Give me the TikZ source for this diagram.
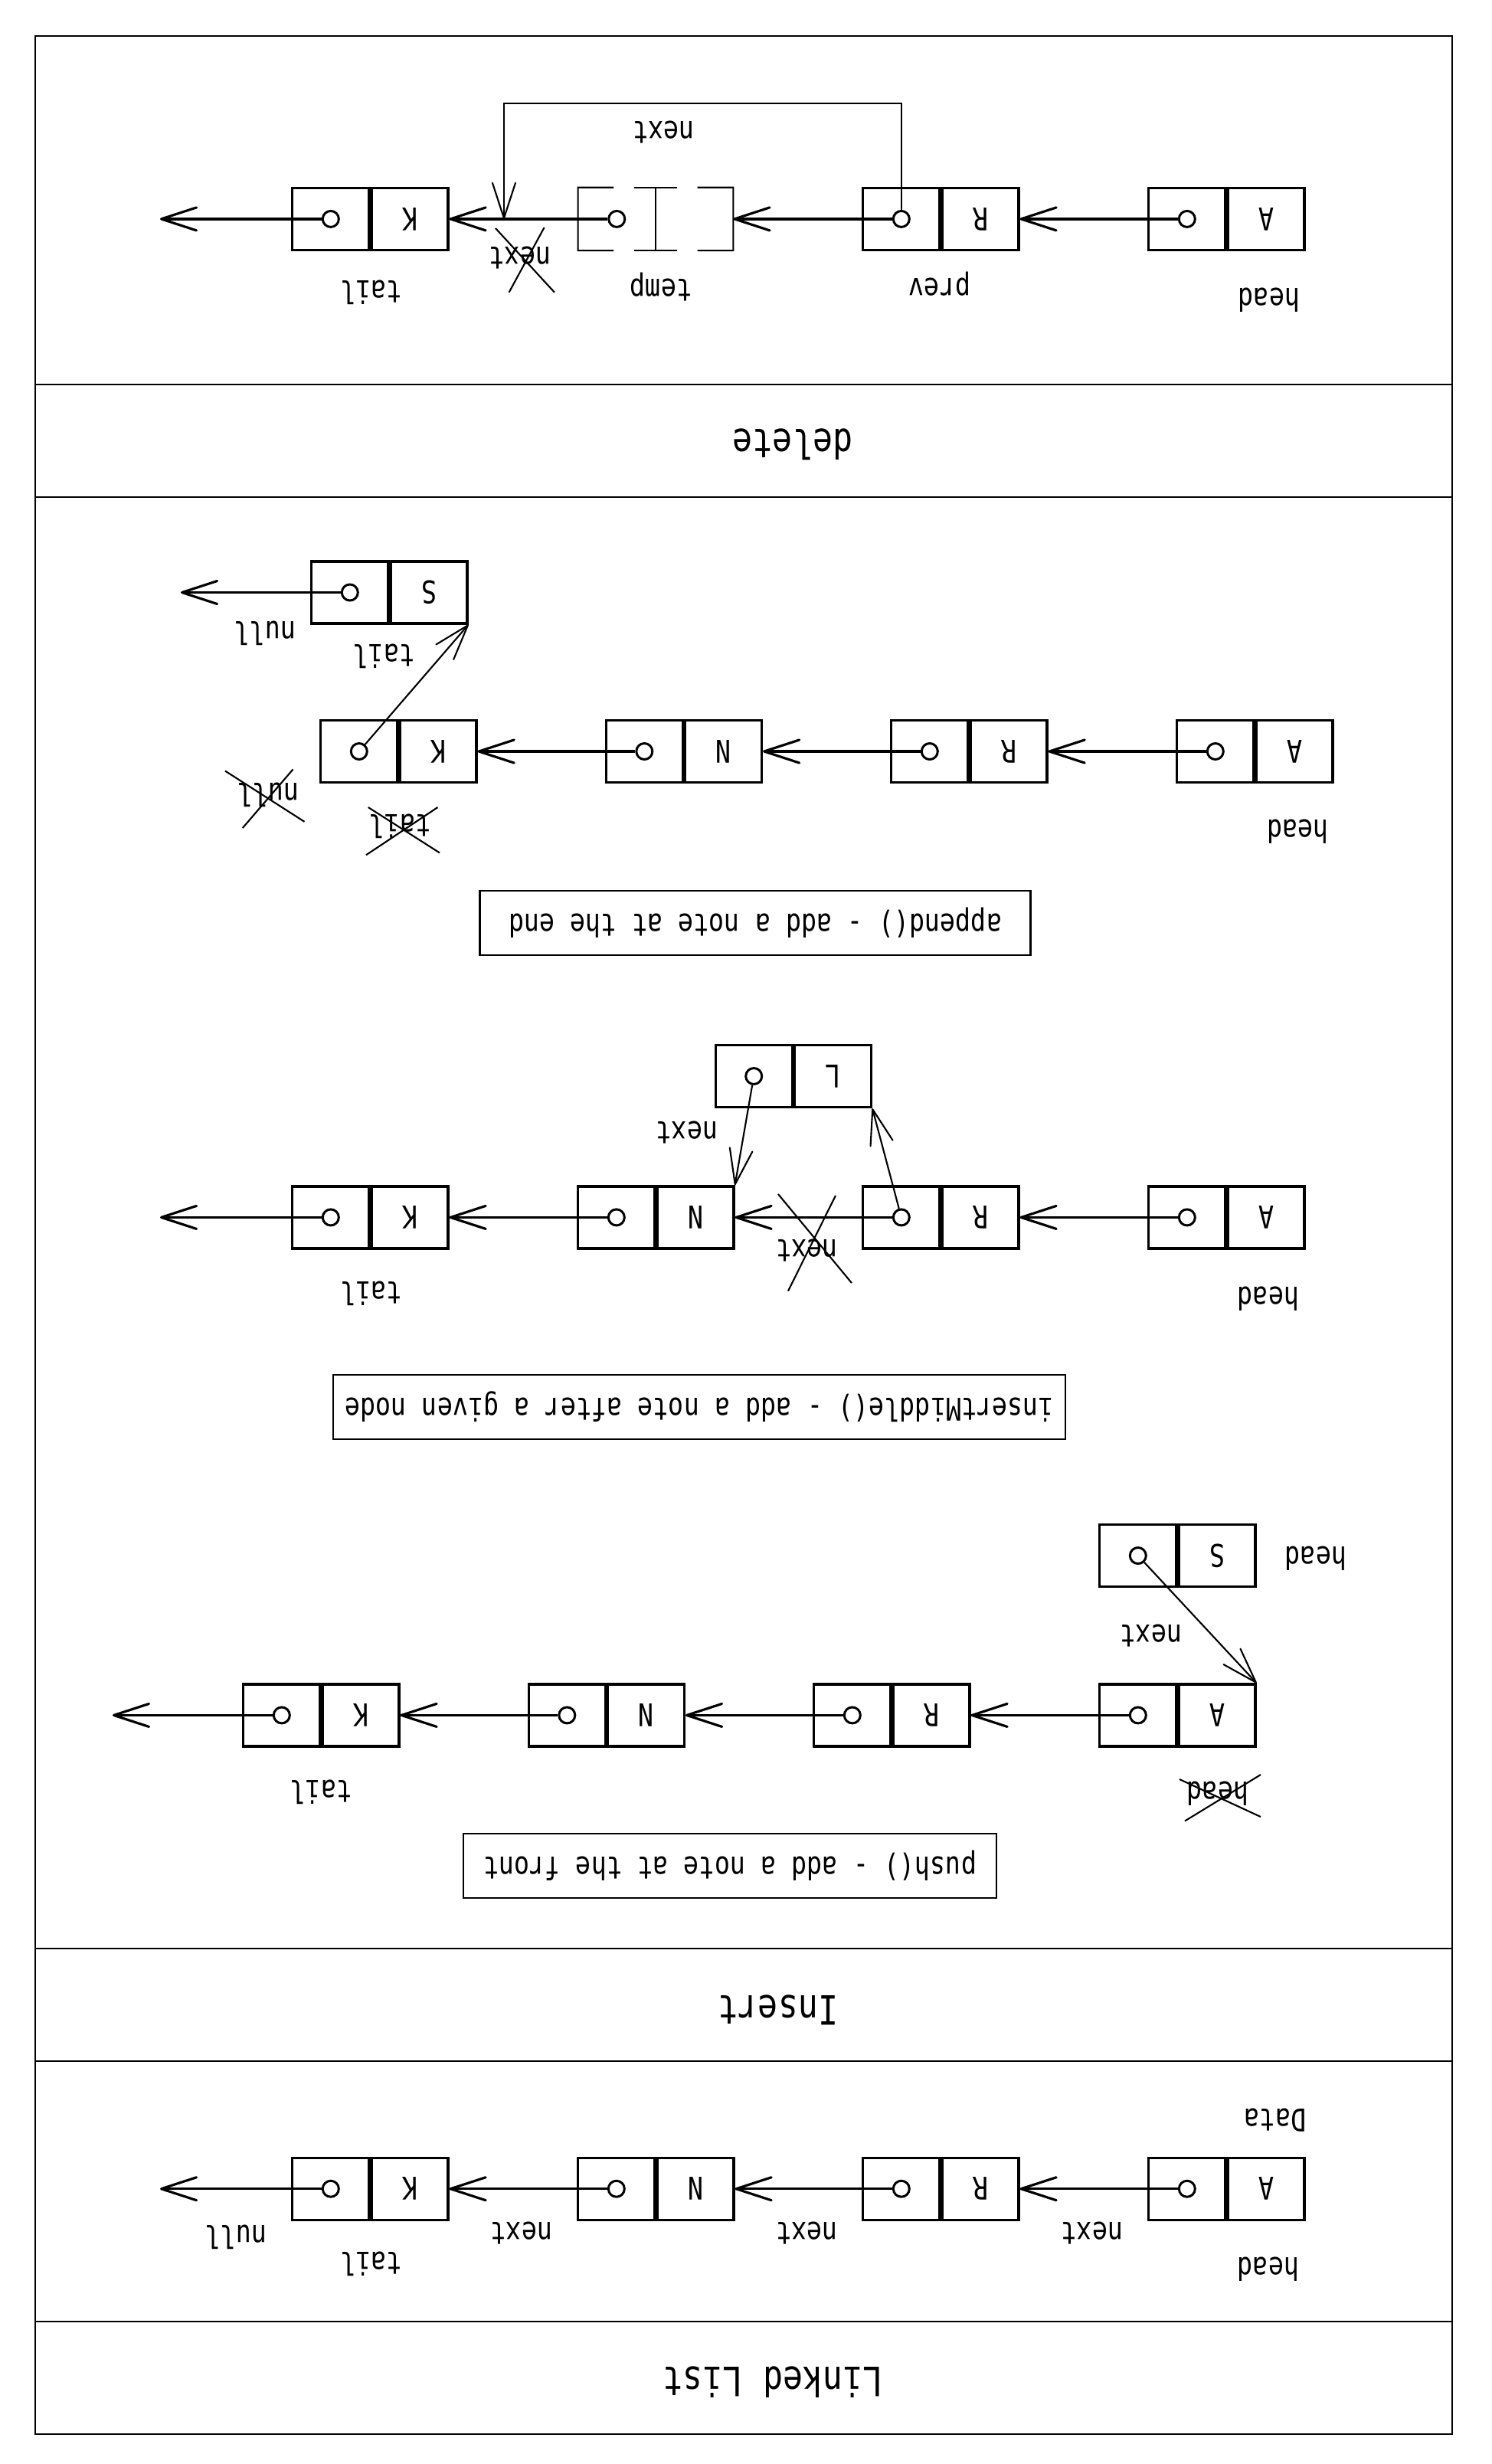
\documentclass[tikz,border=0pt]{standalone}
\usepackage{fontspec}
\setmainfont{DejaVu Sans Mono}[FakeStretch=0.82]
\usetikzlibrary{arrows.meta,positioning,calc}
\newcommand\LabelFont{\fontsize{11.6}{13}\selectfont}
\newcommand\TitleFont{\fontsize{15}{18}\selectfont}
% one list element: data cell, pointer cell and its dot
\newcommand\ListCell[4]{%
    \node[cell] (#1) at ({#2-0.5},#3) {#4};
    \node[cell, right=0pt of #1] (#1p) {};
    \node[dot] (#1o) at (#1p.center) {};
}
\newcommand\Strike[4]{%
    \draw[strike] (#1) -- (#2) (#3) -- (#4);
}
\tikzset{
    cell/.style={draw, line width=0.9pt, minimum width=1cm, minimum height=0.81cm, inner sep=0pt, font=\LabelFont},
    ghost/.style={minimum width=1cm, minimum height=0.81cm, inner sep=0pt},
    dot/.style={circle, draw, fill=white, line width=0.85pt, minimum size=0.21cm, inner sep=0pt},
    ptr/.style={line width=0.9pt, -{Straight Barb[length=4.6mm,width=3mm,round]}},
    thinptr/.style={ptr, line width=0.6pt},
    tag/.style={font=\LabelFont, inner sep=0pt},
    strike/.style={line width=0.6pt},
    bracket/.style={line width=0.6pt},
    caption/.style={draw, line width=0.75pt, minimum height=0.84cm, inner sep=0pt, font=\LabelFont},
    title/.style={font=\TitleFont},
    secline/.style={line width=0.65pt},
}

\begin{document}
\begin{tikzpicture}[rotate=180, transform shape]
    \useasboundingbox (0,0) rectangle (19.48,32.17);
    \draw[secline] (0.52,0.47) rectangle (19.02,31.78);
    \foreach \y in {5.02,6.49,25.44,26.91,30.31}
        \draw[secline] (0.52,\y) -- (19.02,\y);

    % Linked List
    \node[title] (llTitle) at (9.39,31.10) {Linked List};
    \ListCell{llA}{3.45}{28.577}{A}
    \ListCell{llR}{7.18}{28.577}{R}
    \ListCell{llN}{10.90}{28.577}{N}
    \ListCell{llK}{14.63}{28.577}{K}
    \coordinate (llEnd) at (17.39,28.577);
    \draw[ptr] (llAo) -- (llR);
    \draw[ptr] (llRo) -- (llN);
    \draw[ptr] (llNo) -- (llK);
    \draw[ptr] (llKo) -- (llEnd);
    \node[tag] (llData) at (2.83,27.68) {Data};
    \node[tag] (llHead) at (2.92,29.63) {head};
    \node[tag] (llNext1) at (5.22,29.15) {next};
    \node[tag] (llNext2) at (8.945,29.15) {next};
    \node[tag] (llNext3) at (12.67,29.15) {next};
    \node[tag] (llNull) at (16.40,29.21) {null};
    \node[tag] (llTail) at (14.635,29.56) {tail};

    \node[title] (inTitle) at (9.32,26.24) {Insert};

    % push
    \node[caption, minimum width=6.96cm] (puCap) at (9.95,24.36) {push() - add a note at the front};
    \ListCell{puA}{4.09}{22.394}{A}
    \ListCell{puR}{7.82}{22.394}{R}
    \ListCell{puN}{11.545}{22.394}{N}
    \ListCell{puK}{15.27}{22.394}{K}
    \ListCell{puS}{4.09}{20.31}{S}
    \coordinate (puEnd) at (18.01,22.394);
    \draw[ptr] (puAo) -- (puR);
    \draw[ptr] (puRo) -- (puN);
    \draw[ptr] (puNo) -- (puK);
    \draw[ptr] (puKo) -- (puEnd);
    \draw[thinptr] (puSo) -- (puA.south west);
    \node[tag] (puHead) at (2.30,20.35) {head};
    \node[tag] (puNext) at (4.45,21.35) {next};
    \node[tag] (puOld) at (3.58,23.42) {head};
    \Strike{4.08,23.23}{3.02,23.72}{3.02,23.17}{4.01,23.775}
    \node[tag] (puTail) at (15.29,23.40) {tail};

    % insertMiddle
    \node[caption, minimum width=9.56cm] (imCap) at (10.35,18.37) {insertMiddle() - add a note after a given node};
    \ListCell{imA}{3.45}{15.894}{A}
    \ListCell{imR}{7.18}{15.894}{R}
    \ListCell{imN}{10.90}{15.894}{N}
    \ListCell{imK}{14.63}{15.894}{K}
    \ListCell{imL}{9.106}{14.05}{L}
    \coordinate (imEnd) at (17.39,15.894);
    \draw[ptr] (imAo) -- (imR);
    \draw[ptr] (imRo) -- (imN);
    \draw[ptr] (imNo) -- (imK);
    \draw[ptr] (imKo) -- (imEnd);
    \draw[thinptr] (imRo) -- (imL.north west);
    \draw[thinptr] (imLo) -- (imN.south west);
    \node[tag] (imNext) at (10.51,14.78) {next};
    \node[tag] (imOld) at (8.945,16.32) {next};
    \Strike{9.32,15.59}{8.36,16.75}{8.57,15.61}{9.19,16.855}
    \node[tag] (imHead) at (2.92,16.96) {head};
    \node[tag] (imTail) at (14.635,16.89) {tail};

    % append
    \node[caption, minimum width=7.185cm] (apCap) at (9.62,12.05) {append() - add a note at the end};
    \ListCell{apA}{3.08}{9.81}{A}
    \ListCell{apR}{6.81}{9.81}{R}
    \ListCell{apN}{10.535}{9.81}{N}
    \ListCell{apK}{14.26}{9.81}{K}
    \ListCell{apS}{14.38}{7.735}{S}
    \coordinate (apEnd) at (17.12,7.735);
    \draw[ptr] (apAo) -- (apR);
    \draw[ptr] (apRo) -- (apN);
    \draw[ptr] (apNo) -- (apK);
    \draw[thinptr] (apKo) -- (apS.north west);
    \draw[ptr] (apSo) -- (apEnd);
    \node[tag] (apNull) at (16.02,8.27) {null};
    \node[tag] (apTail) at (14.47,8.57) {tail};
    \node[tag] (apOldNull) at (15.98,10.38) {null};
    \Strike{16.54,10.065}{15.505,10.728}{15.654,10.044}{16.312,10.81}
    \node[tag] (apOldTail) at (14.26,10.79) {tail};
    \Strike{14.672,10.54}{13.74,11.134}{13.765,10.54}{14.70,11.163}
    \node[tag] (apHead) at (2.535,10.86) {head};

    \node[title] (deTitle) at (9.13,5.80) {delete};

    % delete
    \ListCell{deA}{3.45}{2.859}{A}
    \ListCell{deR}{7.18}{2.859}{R}
    \ListCell{deK}{14.63}{2.859}{K}
    \node[ghost] (deT) at (10.413,2.859) {};
    \node[ghost, right=0pt of deT] (deTp) {};
    \node[dot] (deTo) at (deTp.center) {};
    \draw[bracket] ($(deT.north west)!0.46!(deT.north east)$) -- (deT.north west)
        -- (deT.south west) -- ($(deT.south west)!0.46!(deT.south east)$);
    \draw[bracket] ($(deT.north east)!0.275!(deT.north west)$) -- ($(deTp.north west)!0.275!(deTp.north east)$)
        (deT.north east) -- (deT.south east)
        ($(deT.south east)!0.275!(deT.south west)$) -- ($(deTp.south west)!0.275!(deTp.south east)$);
    \draw[bracket] ($(deTp.north east)!0.46!(deTp.north west)$) -- (deTp.north east)
        -- (deTp.south east) -- ($(deTp.south east)!0.46!(deTp.south west)$);
    \coordinate (deEnd) at (17.39,2.859);
    \coordinate (deCut) at (12.90,2.859);
    \coordinate (deDetour) at (12.90,1.348);
    \draw[ptr] (deAo) -- (deR);
    \draw[ptr] (deRo) -- (deT);
    \draw[ptr] (deTo) -- (deK);
    \draw[ptr] (deKo) -- (deEnd);
    \draw[thinptr] (deRo) |- (deDetour) -- (deCut);
    \node[tag] (deNext) at (10.815,1.73) {next};
    \node[tag] (deOld) at (12.69,3.37) {next};
    \Strike{13.01,2.98}{12.24,3.817}{12.374,2.97}{12.834,3.817}
    \node[tag] (deHead) at (2.91,3.92) {head};
    \node[tag] (dePrev) at (7.21,3.71) {prev};
    \node[tag] (deTemp) at (10.85,3.75) {temp};
    \node[tag] (deTail) at (14.635,3.817) {tail};
\end{tikzpicture}
\end{document}
